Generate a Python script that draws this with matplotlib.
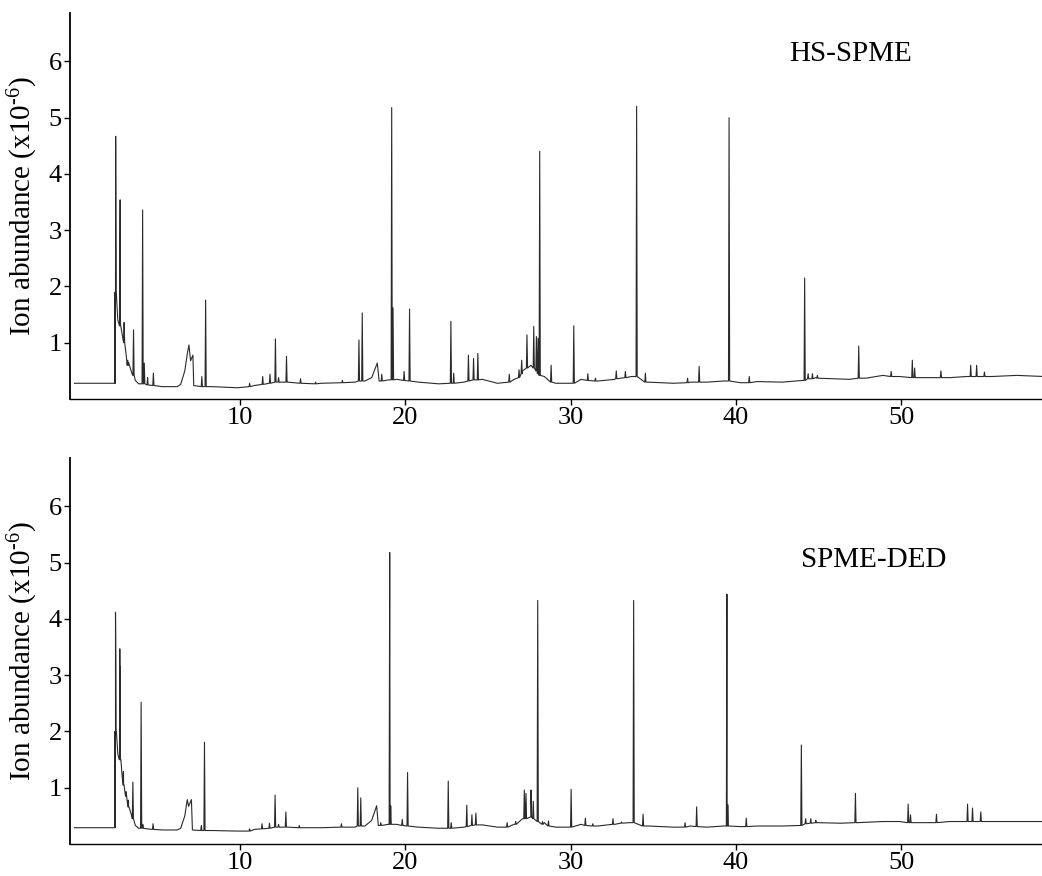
import numpy as np
import matplotlib
matplotlib.use("Agg")
import matplotlib.pyplot as plt

plt.rcParams['font.family'] = ['Liberation Serif', 'DejaVu Serif']
plt.rcParams['mathtext.fontset'] = 'custom'
plt.rcParams['mathtext.rm'] = 'Liberation Serif'
plt.rcParams['mathtext.it'] = 'Liberation Serif'

# HS-SPME: baseline knots (time, level) and peaks (time, apex, base)
hs_bl_t = [0.0, 2.44, 2.46, 2.48, 2.62, 2.77, 2.97, 3.12, 3.27, 3.48, 3.68, 3.88,
           4.39, 5.30, 6.21, 6.42, 6.67, 6.82, 6.92, 7.02, 7.16, 7.21, 8.34, 9.86,
           10.88, 12.9, 14.93, 16.96, 17.56, 17.97, 18.31, 18.42, 18.98, 19.49,
           20.81, 22.02, 23.54, 24.66, 25.57, 26.58, 27.09, 27.6, 28.41, 29.11,
           29.93, 30.63, 31.65, 32.66, 33.68, 34.69, 36.21, 37.22, 38.23, 39.25,
           40.26, 41.27, 42.8, 44.01, 44.82, 46.85, 47.86, 48.88, 49.89, 51.41,
           52.93, 53.94, 55.46, 56.98, 58.64]
hs_bl_y = [0.28, 0.28, 0.28, 1.9, 1.4, 1.35, 1.0, 0.8, 0.65, 0.45, 0.33, 0.27,
           0.25, 0.22, 0.22, 0.26, 0.5, 0.8, 0.96, 0.68, 0.78, 0.24, 0.22, 0.2,
           0.24, 0.3, 0.28, 0.3, 0.32, 0.38, 0.64, 0.32, 0.34, 0.35,
           0.3, 0.27, 0.3, 0.35, 0.28, 0.35, 0.5, 0.6, 0.4, 0.28,
           0.28, 0.35, 0.32, 0.35, 0.4, 0.3, 0.28, 0.3, 0.3, 0.32,
           0.29, 0.31, 0.3, 0.33, 0.38, 0.35, 0.37, 0.42, 0.4, 0.38,
           0.38, 0.4, 0.4, 0.42, 0.4]
hs_rt = [2.49, 2.76, 3.00, 3.22, 3.57, 4.12, 4.22, 4.42, 4.77, 7.70, 7.93,
         10.59, 11.38, 11.82, 12.15, 12.34, 12.82, 13.67, 14.58, 16.20, 17.20,
         17.40, 18.58, 19.18, 19.26, 19.93, 20.26, 22.76, 22.93, 23.82, 24.13,
         24.39, 26.29, 26.88, 27.04, 27.36, 27.77, 27.93, 28.03, 28.13, 28.82,
         30.19, 31.04, 31.50, 32.76, 33.31, 33.99, 34.52, 37.07, 37.77, 39.58,
         40.80, 44.15, 44.36, 44.62, 44.92, 47.42, 49.38, 50.66, 50.80, 52.39,
         54.19, 54.55, 55.02]
hs_apex = [4.67, 3.54, 1.36, 0.69, 1.23, 3.36, 0.64, 0.38, 0.46, 0.40, 1.76,
           0.28, 0.40, 0.44, 1.07, 0.38, 0.76, 0.36, 0.30, 0.33, 1.05,
           1.53, 0.44, 5.18, 1.62, 0.49, 1.60, 1.38, 0.46, 0.78, 0.72,
           0.81, 0.44, 0.52, 0.69, 1.14, 1.29, 1.11, 1.08, 4.40, 0.60,
           1.30, 0.45, 0.37, 0.50, 0.49, 5.20, 0.46, 0.37, 0.58, 5.00,
           0.40, 2.15, 0.45, 0.45, 0.42, 0.94, 0.49, 0.69, 0.55, 0.50,
           0.60, 0.60, 0.48]
hs_base = [1.9, 1.3, 1.0, 0.6, 0.42, 0.27, 0.27, 0.25, 0.24, 0.22, 0.22,
           0.22, 0.26, 0.28, 0.3, 0.3, 0.3, 0.28, 0.27, 0.29, 0.32,
           0.32, 0.32, 0.34, 0.34, 0.33, 0.32, 0.28, 0.28, 0.32, 0.34,
           0.34, 0.3, 0.38, 0.45, 0.55, 0.55, 0.5, 0.45, 0.42, 0.3,
           0.28, 0.33, 0.32, 0.36, 0.38, 0.4, 0.3, 0.29, 0.3, 0.32,
           0.29, 0.33, 0.36, 0.36, 0.37, 0.37, 0.4, 0.38, 0.38, 0.38,
           0.4, 0.4, 0.4]

# SPME-DED
ded_bl_t = [0.0, 2.44, 2.46, 2.48, 2.62, 2.77, 2.97, 3.12, 3.27, 3.48, 3.68, 3.88,
            4.39, 5.30, 6.21, 6.42, 6.67, 6.82, 6.90, 7.07, 7.13, 8.34, 9.86,
            10.88, 12.9, 14.93, 16.96, 17.56, 17.97, 18.27, 18.37, 18.98, 19.49,
            20.81, 22.02, 23.54, 24.66, 25.57, 26.58, 27.09, 27.6, 28.41, 29.11,
            29.93, 30.63, 31.65, 32.66, 33.57, 34.69, 36.21, 37.22, 38.23, 39.25,
            40.26, 41.27, 42.8, 43.81, 44.82, 46.34, 47.36, 48.88, 49.89, 51.41,
            52.93, 53.94, 55.46, 56.98, 58.64]
ded_bl_y = [0.29, 0.29, 0.29, 2.0, 1.6, 1.5, 1.05, 0.85, 0.66, 0.48, 0.33, 0.28,
            0.27, 0.25, 0.25, 0.28, 0.5, 0.79, 0.67, 0.79, 0.25, 0.24, 0.23,
            0.26, 0.3, 0.29, 0.3, 0.32, 0.42, 0.68, 0.33, 0.35, 0.35,
            0.3, 0.28, 0.3, 0.34, 0.3, 0.35, 0.45, 0.5, 0.38, 0.3,
            0.3, 0.35, 0.32, 0.35, 0.38, 0.32, 0.3, 0.32, 0.3, 0.32,
            0.31, 0.32, 0.32, 0.33, 0.38, 0.37, 0.38, 0.4, 0.4, 0.38,
            0.4, 0.4, 0.4, 0.4, 0.4]
ded_rt = [2.48, 2.50, 2.74, 2.77, 2.96, 3.12, 3.26, 3.53, 4.03, 4.14, 4.75,
          7.67, 7.86, 10.59, 11.34, 11.79, 12.13, 12.34, 12.78, 13.59, 16.14,
          17.13, 17.31, 18.52, 19.06, 19.12, 19.82, 20.14, 22.60, 22.78, 23.72,
          24.03, 24.27, 26.16, 26.68, 27.20, 27.30, 27.60, 27.74, 28.01, 28.30,
          28.66, 30.03, 30.89, 31.34, 32.56, 33.07, 33.81, 34.38, 36.92, 37.62,
          39.45, 39.50, 40.62, 43.95, 44.21, 44.52, 44.82, 47.22, 49.18, 50.41,
          50.55, 52.12, 54.00, 54.30, 54.80]
ded_apex = [4.12, 3.30, 3.47, 3.15, 1.29, 0.93, 0.78, 1.10, 2.52, 0.35, 0.36,
            0.33, 1.81, 0.27, 0.36, 0.37, 0.87, 0.35, 0.57, 0.33, 0.36,
            1.00, 0.82, 0.38, 5.18, 0.68, 0.44, 1.27, 1.12, 0.38, 0.69,
            0.52, 0.55, 0.38, 0.40, 0.96, 0.90, 0.96, 0.76, 4.33, 0.40,
            0.41, 0.97, 0.46, 0.36, 0.45, 0.39, 4.33, 0.53, 0.38, 0.66,
            4.44, 0.70, 0.46, 1.76, 0.45, 0.45, 0.42, 0.90, 0.40, 0.71,
            0.52, 0.53, 0.71, 0.64, 0.57]
ded_base = [2.0, 2.0, 1.5, 1.5, 1.05, 0.85, 0.66, 0.45, 0.28, 0.28, 0.26,
            0.24, 0.24, 0.23, 0.27, 0.28, 0.3, 0.3, 0.3, 0.29, 0.3,
            0.32, 0.32, 0.33, 0.35, 0.35, 0.33, 0.32, 0.28, 0.28, 0.31,
            0.33, 0.34, 0.3, 0.35, 0.45, 0.45, 0.48, 0.45, 0.4, 0.35,
            0.32, 0.3, 0.33, 0.32, 0.35, 0.37, 0.38, 0.32, 0.3, 0.31,
            0.32, 0.32, 0.31, 0.33, 0.36, 0.37, 0.38, 0.38, 0.4, 0.38,
            0.38, 0.38, 0.4, 0.4, 0.4]

xticks = [10, 20, 30, 40, 50]
yticks = [1, 2, 3, 4, 5, 6]


def trace(bl_t, bl_y, rt, apex, base, hw=0.035):
    t = list(bl_t)
    y = list(bl_y)
    for r, a, b in zip(rt, apex, base):
        t += [r - hw, r, r + hw]
        y += [b, a, b]
    order = np.argsort(t, kind='stable')
    return np.array(t)[order], np.array(y)[order]


fig = plt.figure(figsize=(10.42, 8.76), dpi=100)
ax1 = fig.add_axes([0.0672, 0.5445, 0.935, 0.4406])
ax2 = fig.add_axes([0.0672, 0.0365, 0.935, 0.4406])

panels = [(ax1, hs_bl_t, hs_bl_y, hs_rt, hs_apex, hs_base, 'HS-SPME', 46.9, 6.14),
          (ax2, ded_bl_t, ded_bl_y, ded_rt, ded_apex, ded_base, 'SPME-DED', 48.3, 5.04)]

for ax, bt, by, rt, ap, bs, name, tx, ty in panels:
    t, y = trace(bt, by, rt, ap, bs)
    ax.plot(t, y, color='#2a2a2a', lw=0.8)
    ax.set_xlim(-0.27, 58.64)
    ax.set_ylim(0, 6.86)
    ax.set_xticks(xticks)
    ax.set_yticks(yticks)
    ax.spines['top'].set_visible(False)
    ax.spines['right'].set_visible(False)
    ax.spines['left'].set_linewidth(1.3)
    ax.spines['bottom'].set_linewidth(1.0)
    ax.tick_params(axis='both', direction='out', length=4, width=1, labelsize=19, pad=2)
    ax.set_ylabel('Ion abundance (x10$^{\u2010\\mathrm{6}}$)', fontsize=21, labelpad=6)
    ax.text(tx, ty, name, ha='center', va='center', fontsize=21)

fig.savefig('out.png', dpi=100)
